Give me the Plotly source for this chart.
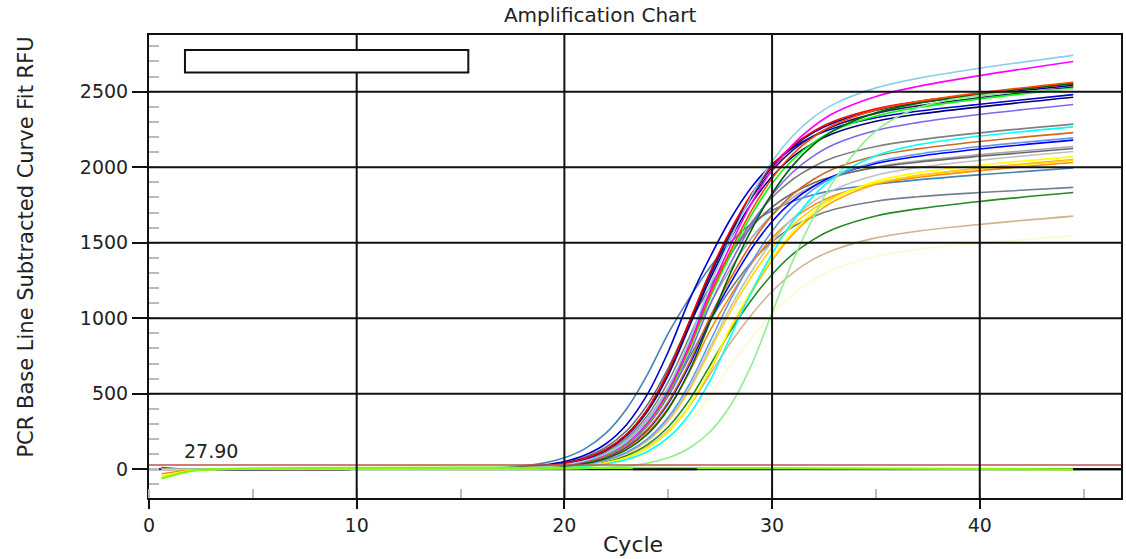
import plotly.graph_objects as go

# ---------------- data ----------------
CYCLES = [0.6, 2, 3, 10, 17, 19, 20, 21, 22, 23, 24, 25, 26, 27, 28, 29, 30,
          31, 32, 33, 35, 37, 40, 44.5]

LEMONCHIFFON = [0, 0, 0, 0, 1, 5, 9, 17, 32, 58, 105, 184, 308, 482, 690, 868, 1029, 1159, 1256, 1325, 1410, 1455, 1497, 1545]
TAN = [0, 0, 0, 0, 2, 7, 13, 25, 46, 84, 149, 256, 416, 626, 838, 1022, 1179, 1301, 1391, 1454, 1532, 1576, 1621, 1676]
FORESTGREEN = [0, 0, 0, 0, 2, 8, 15, 27, 50, 92, 163, 280, 455, 685, 916, 1119, 1290, 1424, 1522, 1592, 1677, 1724, 1773, 1832]
SLATEGRAY = [0, 0, 0, 0, 5, 16, 29, 54, 99, 176, 301, 489, 736, 982, 1192, 1370, 1507, 1606, 1674, 1721, 1775, 1804, 1832, 1866]
STEELBLUE = [0, 0, 0, 0, 12, 41, 76, 137, 239, 401, 628, 900, 1130, 1336, 1502, 1626, 1713, 1775, 1818, 1848, 1887, 1916, 1950, 1995]
ORANGE = [0, 0, 0, 0, 2, 7, 12, 23, 43, 78, 141, 247, 415, 649, 930, 1169, 1383, 1556, 1685, 1776, 1887, 1944, 1993, 2050]
DARKORANGE = [-30, -5, 0, 0, 3, 12, 23, 42, 77, 139, 243, 408, 639, 915, 1150, 1361, 1532, 1658, 1749, 1813, 1889, 1932, 1977, 2031]
GOLD = [0, 0, 0, 0, 3, 9, 17, 31, 58, 105, 187, 320, 520, 783, 1046, 1273, 1466, 1616, 1726, 1802, 1893, 1942, 1990, 2046]
YELLOW = [-45, -8, 0, 0, 2, 7, 13, 23, 43, 79, 143, 250, 419, 656, 940, 1181, 1397, 1573, 1702, 1795, 1906, 1963, 2013, 2070]
SILVER = [0, 0, 0, 0, 3, 9, 17, 32, 59, 108, 192, 329, 534, 804, 1074, 1308, 1506, 1661, 1774, 1852, 1946, 1997, 2046, 2104]
DARKGRAY = [0, 0, 0, 0, 5, 18, 33, 60, 109, 195, 334, 542, 816, 1091, 1327, 1529, 1684, 1799, 1877, 1934, 2001, 2041, 2083, 2137]
DIMGRAY = [0, 0, 0, 0, 7, 24, 44, 81, 146, 255, 428, 670, 960, 1205, 1426, 1604, 1736, 1829, 1896, 1941, 1998, 2033, 2072, 2124]
BLUE = [0, 0, 0, 0, 4, 13, 24, 45, 83, 149, 261, 437, 684, 980, 1232, 1458, 1641, 1777, 1874, 1943, 2025, 2071, 2120, 2179]
CORNFLOWER = [0, 0, 0, 0, 3, 10, 18, 34, 62, 113, 201, 344, 559, 842, 1124, 1369, 1576, 1737, 1855, 1937, 2034, 2086, 2136, 2194]
CHOCOLATE = [0, 0, 0, 0, 4, 13, 25, 46, 85, 153, 267, 448, 701, 1005, 1263, 1494, 1682, 1821, 1920, 1991, 2074, 2121, 2170, 2229]
CYAN = [0, 0, 0, 0, 2, 5, 10, 19, 35, 65, 118, 209, 359, 583, 878, 1172, 1427, 1642, 1810, 1932, 2076, 2148, 2206, 2267]
GRAY = [0, 0, 0, 0, 5, 19, 35, 64, 117, 208, 356, 579, 871, 1164, 1418, 1632, 1799, 1920, 2005, 2065, 2137, 2180, 2227, 2285]
MEDIUMPURPLE = [0, 0, 0, 0, 4, 15, 27, 50, 91, 165, 289, 484, 757, 1085, 1364, 1614, 1817, 1968, 2075, 2152, 2243, 2295, 2349, 2415]
NAVY = [0, 0, 0, 0, 6, 20, 38, 69, 126, 224, 384, 624, 939, 1255, 1527, 1759, 1938, 2070, 2161, 2226, 2304, 2350, 2399, 2463]
MEDIUMBLUE = [0, 0, 0, 0, 8, 28, 51, 94, 169, 297, 497, 778, 1115, 1401, 1657, 1865, 2019, 2128, 2206, 2260, 2327, 2370, 2417, 2480]
MIDNIGHTBLUE = [0, 0, 0, 0, 6, 21, 38, 70, 128, 228, 391, 635, 956, 1278, 1557, 1794, 1978, 2113, 2207, 2274, 2356, 2406, 2460, 2530]
DARKBLUE = [0, 0, 0, 0, 6, 21, 39, 71, 130, 231, 396, 643, 969, 1294, 1576, 1814, 2000, 2135, 2230, 2296, 2377, 2425, 2476, 2542]
LIME = [0, 0, 0, 0, 4, 15, 28, 52, 95, 172, 301, 504, 789, 1130, 1421, 1682, 1894, 2051, 2163, 2244, 2339, 2394, 2452, 2522]
RED = [12, 0, 0, 0, 6, 21, 39, 72, 130, 232, 398, 646, 973, 1300, 1583, 1822, 2009, 2145, 2239, 2306, 2387, 2435, 2486, 2552]
DARKGREEN = [0, 0, 0, 0, 3, 11, 21, 39, 72, 130, 232, 398, 646, 973, 1300, 1584, 1825, 2012, 2149, 2245, 2360, 2422, 2483, 2555]
ORANGERED = [0, 0, 0, 0, 4, 15, 29, 53, 97, 175, 306, 513, 803, 1150, 1446, 1711, 1926, 2086, 2200, 2282, 2379, 2434, 2492, 2562]
MAGENTA = [0, 0, 0, 0, 4, 16, 29, 54, 99, 178, 313, 524, 820, 1175, 1482, 1758, 1982, 2150, 2271, 2360, 2468, 2534, 2606, 2700]
SKYBLUE = [0, 0, 0, 0, 5, 16, 30, 56, 102, 184, 323, 541, 846, 1213, 1526, 1809, 2038, 2208, 2331, 2419, 2525, 2588, 2655, 2740]
LIGHTGREEN = [0, 0, 0, 0, 1, 2, 3, 6, 12, 22, 41, 76, 139, 247, 424, 688, 1036, 1380, 1671, 1916, 2240, 2392, 2475, 2518]

# non-amplifying wells
NTC_LIME_X = [0.6, 2, 3, 44.5]
NTC_LIME_Y = [-60, -12, 0, 0]
NTC_BLACK_X = [23.3, 26.4, None, 44.5, 46.8]
NTC_BLACK_Y = [0, 0, None, 0, 0]

THRESHOLD = 27.90
THRESHOLD_LABEL = "27.90"
X_TICKS = [0, 10, 20, 30, 40]
Y_TICKS = [0, 500, 1000, 1500, 2000, 2500]
X_RANGE = [0, 46.8]
Y_RANGE = [-190, 2875]

SERIES = [
    ("#FFFACD", LEMONCHIFFON), ("#D2B48C", TAN), ("#228B22", FORESTGREEN),
    ("#708090", SLATEGRAY), ("#4682B4", STEELBLUE), ("#FFA500", ORANGE),
    ("#FF8C00", DARKORANGE), ("#FFD700", GOLD), ("#FFFF00", YELLOW),
    ("#C0C0C0", SILVER), ("#A9A9A9", DARKGRAY), ("#696969", DIMGRAY),
    ("#0000FF", BLUE), ("#6495ED", CORNFLOWER), ("#D2691E", CHOCOLATE),
    ("#00FFFF", CYAN), ("#808080", GRAY), ("#7B68EE", MEDIUMPURPLE),
    ("#000080", NAVY), ("#0000CD", MEDIUMBLUE), ("#191970", MIDNIGHTBLUE),
    ("#00008B", DARKBLUE), ("#00FF00", LIME), ("#FF0000", RED),
    ("#006400", DARKGREEN), ("#FF4500", ORANGERED), ("#FF00FF", MAGENTA),
    ("#87CEEB", SKYBLUE), ("#90EE90", LIGHTGREEN),
]

FONT = "DejaVu Sans"

fig = go.Figure()
for color, vals in SERIES:
    fig.add_trace(go.Scatter(x=CYCLES, y=vals, mode="lines",
                             line=dict(color=color, width=1.6, shape="spline"),
                             showlegend=False, hoverinfo="skip"))

fig.add_trace(go.Scatter(x=NTC_LIME_X, y=NTC_LIME_Y, mode="lines",
                         line=dict(color="#7CFC00", width=2.2, shape="spline"),
                         showlegend=False, hoverinfo="skip"))
fig.add_trace(go.Scatter(x=NTC_BLACK_X, y=NTC_BLACK_Y, mode="lines",
                         line=dict(color="#000000", width=2),
                         showlegend=False, hoverinfo="skip"))

# threshold
fig.add_shape(type="line", xref="paper", x0=0, x1=1, y0=THRESHOLD, y1=THRESHOLD,
              line=dict(color="#C05050", width=1.5), layer="above")
fig.add_annotation(x=1.6, y=THRESHOLD, text=THRESHOLD_LABEL, showarrow=False,
                   xanchor="left", yanchor="bottom", yshift=1,
                   font=dict(family=FONT, size=19, color="#222"))

# grid lines (drawn over the curves, except the zero line)
for v in X_TICKS[1:]:
    fig.add_shape(type="line", x0=v, x1=v, yref="y domain", y0=0, y1=1,
                  line=dict(color="#111", width=2), layer="above")
for v in Y_TICKS:
    fig.add_shape(type="line", xref="x domain", x0=0, x1=1, y0=v, y1=v,
                  line=dict(color="#111", width=2),
                  layer="below" if v == 0 else "above")

# empty legend box
fig.add_shape(type="rect", xref="paper", yref="paper", x0=0.037, x1=0.3285,
              y0=0.919, y1=0.9676, fillcolor="white",
              line=dict(color="#111", width=2), layer="above")

fig.add_annotation(text="PCR Base Line Subtracted Curve Fit RFU", xref="paper",
                   yref="paper", x=-0.127, y=0.542, textangle=-90,
                   showarrow=False, xanchor="center", yanchor="middle",
                   font=dict(family=FONT, size=21, color="#222"))
fig.add_annotation(text="Cycle", xref="paper", yref="paper", x=0.498, y=-0.1015,
                   showarrow=False, xanchor="center", yanchor="middle",
                   font=dict(family=FONT, size=22, color="#222"))

axis_common = dict(showgrid=False, zeroline=False, showline=True,
                   linecolor="#111", linewidth=2, mirror=True,
                   ticks="outside", tickcolor="#111", tickwidth=2,
                   tickfont=dict(family=FONT, size=19, color="#222"))

fig.update_layout(
    width=1126, height=559,
    margin=dict(l=149, r=3, t=35, b=61),
    paper_bgcolor="white", plot_bgcolor="white",
    title=dict(text="Amplification Chart", x=0.533, xref="container",
               y=0.973, yref="container", xanchor="center", yanchor="middle",
               font=dict(family=FONT, size=20, color="#222")),
    xaxis=dict(range=X_RANGE, tickvals=X_TICKS, ticklen=9,
               minor=dict(dtick=5, tick0=0, ticks="inside", ticklen=9,
                          tickcolor="#bbbbbb", tickwidth=2, showgrid=False),
               **axis_common),
    yaxis=dict(range=Y_RANGE, tickvals=Y_TICKS, ticklen=15,
               minor=dict(dtick=100, tick0=0, ticks="inside", ticklen=10,
                          tickcolor="#bbbbbb", tickwidth=2, showgrid=False),
               **axis_common),
)

fig.write_html("out.html")
